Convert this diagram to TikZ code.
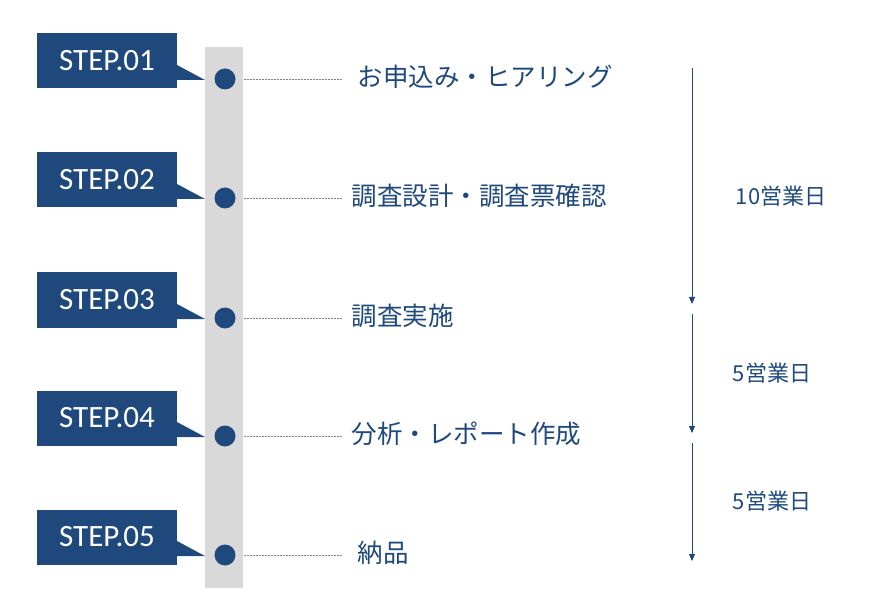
\documentclass[tikz,border=0pt]{standalone}
\usepackage{fontspec}
\setmainfont{Carlito}
\newfontfamily\jpfont{Noto Sans CJK JP}
\usetikzlibrary{arrows.meta,positioning}
\definecolor{navy}{HTML}{1F497D}
\definecolor{barGray}{HTML}{D9D9D9}
\begin{document}
\begin{tikzpicture}[
	%	style def
    x=1pt, y=-1pt,
    stepbox/.style={fill=navy, text=white, minimum width=140pt, minimum height=55pt, inner sep=0pt, font=\fontsize{31}{31}\selectfont},
    dot/.style={circle, fill=navy, minimum size=21pt, inner sep=0pt},
    guide/.style={dashed, dash pattern=on 2pt off 1pt, gray, thin},
    stage/.style={anchor=west, text=navy, font=\jpfont\fontsize{25.5}{25.5}\selectfont},
    span/.style={navy, thick, -{Triangle[length=7pt,width=6pt]}},
    days/.style={text=navy, font=\jpfont\fontsize{22}{22}\selectfont}
    ]
	\useasboundingbox (0,0) rectangle (876,604);
	% timeline bar
	\fill[barGray] (205,47) rectangle (243,588);
	% steps
	\foreach \i/\y/\txt/\tx in {1/79/お申込み・ヒアリング/354, 2/198/調査設計・調査票確認/348, 3/318/調査実施/348, 4/436/分析・レポート作成/348, 5/555/納品/354}{
	  \node[stepbox] (S\i) at (107,\y-18) {STEP.0\i};
	  \fill[navy] (177,\y-14) -- (205,\y+1) -- (177,\y+1) -- cycle;
	  \node[dot] (D\i) at (225,\y) {};
	  \coordinate (E\i) at (342,\y);
	  \draw[guide] (D\i.east) ++(8,0) -- (E\i);
	  \node[stage] (L\i) at (\tx,\y-2) {\txt};
	}
	% durations
	\coordinate (A0) at (692,68);
	\coordinate (A1) at (692,304);
	\coordinate (B0) at (692,314);
	\coordinate (B1) at (692,433);
	\coordinate (C0) at (692,443);
	\coordinate (C1) at (692,561);
	\draw[span] (A0) -- (A1);
	\draw[span] (B0) -- (B1);
	\draw[span] (C0) -- (C1);
	\node[days] (T1) at (781,196) {10営業日};
	\node[days] (T2) at (772,373) {5営業日};
	\node[days] (T3) at (772,501) {5営業日};
\end{tikzpicture}
\end{document}
